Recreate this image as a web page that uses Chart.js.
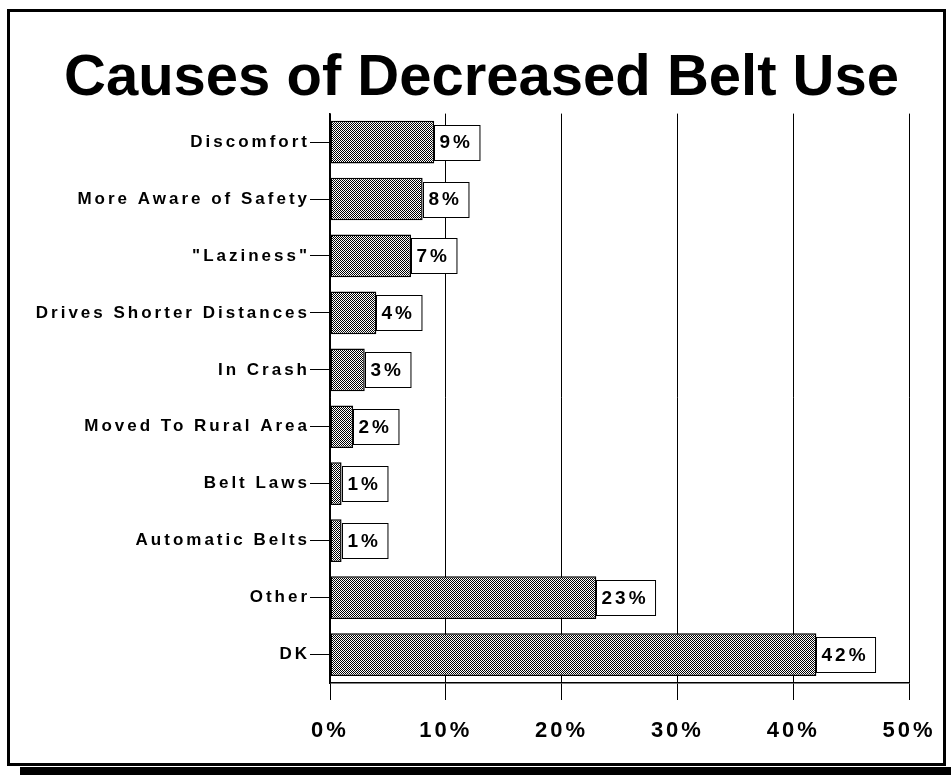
<!DOCTYPE html>
<html>
<head>
<meta charset="utf-8">
<title>Causes of Decreased Belt Use</title>
<script src="https://cdn.jsdelivr.net/npm/chart.js@4.4.1/dist/chart.umd.min.js"></script>
<style>
  html, body { margin: 0; padding: 0; background: #fff; }
  canvas { display: block; }
</style>
</head>
<body>
<canvas id="grafico" width="951" height="775"></canvas>
<script>
// datos del grafico
const causas = ["Discomfort", "More Aware of Safety", "\"Laziness\"", "Drives Shorter Distances",
                "In Crash", "Moved To Rural Area", "Belt Laws", "Automatic Belts", "Other", "DK"];
const porcientos = [9, 8, 7, 4, 3, 2, 1, 1, 23, 42];
const ticksX = [0, 10, 20, 30, 40, 50];
const titulo = "Causes of Decreased Belt Use";

Chart.defaults.font.family = "'Liberation Sans', Arial, sans-serif";
Chart.defaults.color = "#000";

// trama gris punteada para las barras
function trama() {
    const c = document.createElement("canvas");
    c.width = 2; c.height = 2;
    const g = c.getContext("2d");
    g.fillStyle = "#fff";
    g.fillRect(0, 0, 2, 2);
    g.fillStyle = "#000";
    g.fillRect(0, 0, 1, 1);
    g.fillRect(1, 1, 1, 1);
    return g.createPattern(c, "repeat");
}

const ESPACIO = "3px";

// marco con sombra + espaciado de letras
const marco = {
    id: "marco",
    afterInit(chart) {
        const t = chart.titleBlock;
        if (t) {
            const orig = t.draw.bind(t);
            t.draw = function () {
                const c = chart.ctx;
                c.save();
                c.letterSpacing = "0px";
                c.translate(27, 0); // centrar sobre el marco completo
                orig();
                c.restore();
                c.letterSpacing = ESPACIO;
            };
        }
    },
    beforeUpdate(chart) { chart.ctx.letterSpacing = ESPACIO; },
    beforeDraw(chart) {
        const ctx = chart.ctx;
        ctx.letterSpacing = ESPACIO;
        ctx.save();
        ctx.fillStyle = "#fff";
        ctx.fillRect(0, 0, chart.width, chart.height);
        ctx.strokeStyle = "#000";
        ctx.lineWidth = 3;
        ctx.strokeRect(8.5, 10.5, 936, 754);
        ctx.fillStyle = "#000";
        ctx.fillRect(20, 767, chart.width - 20, 8);
        ctx.restore();
    }
};

// etiquetas con caja blanca al final de cada barra
const etiquetas = {
    id: "etiquetas",
    afterDatasetsDraw(chart) {
        const ctx = chart.ctx;
        const meta = chart.getDatasetMeta(0);
        ctx.save();
        ctx.letterSpacing = ESPACIO;
        ctx.font = "bold 19px 'Liberation Sans', Arial, sans-serif";
        ctx.textBaseline = "middle";
        ctx.textAlign = "left";
        meta.data.forEach((bar, i) => {
            const txt = porcientos[i] + "%";
            const w = ctx.measureText(txt).width + 12;
            const h = 35;
            const x0 = Math.round(bar.x) + 0.5;
            const y0 = Math.round(bar.y - h / 2) + 0.5;
            ctx.fillStyle = "#fff";
            ctx.fillRect(x0, y0, w, h);
            ctx.strokeStyle = "#000";
            ctx.lineWidth = 1;
            ctx.strokeRect(x0, y0, w, h);
            ctx.fillStyle = "#000";
            ctx.fillText(txt, x0 + 5, bar.y + 1);
        });
        ctx.restore();
    }
};

const ctx = document.getElementById("grafico").getContext("2d");

new Chart(ctx, {
    type: "bar",
    data: {
        labels: causas,
        datasets: [{
            data: porcientos,
            backgroundColor: trama(),
            borderColor: "#000",
            borderWidth: 1.5,
            borderSkipped: false,
            barPercentage: 0.75,
            categoryPercentage: 1
        }]
    },
    options: {
        indexAxis: "y",
        responsive: false,
        animation: false,
        layout: { padding: { left: 0, right: 42, top: 0, bottom: 0 } },
        plugins: {
            legend: { display: false },
            tooltip: { enabled: false },
            title: {
                display: true,
                text: titulo,
                color: "#000",
                font: { size: 58, weight: "bold" },
                padding: { top: 44, bottom: 0 }
            }
        },
        scales: {
            x: {
                min: 0,
                max: 50,
                afterFit(scale) {
                    scale.height = 92;
                    scale.paddingLeft = 0;
                    scale.paddingRight = 0;
                },
                afterBuildTicks(scale) { scale.ticks = ticksX.map(v => ({ value: v })); },
                grid: {
                    color: "#000",
                    lineWidth: 1,
                    tickLength: 17,
                    tickColor: "#000"
                },
                border: { display: true, color: "#000", width: 1.5 },
                ticks: {
                    padding: 18,
                    font: { size: 22, weight: "bold" },
                    color: "#000",
                    callback: v => v + "%"
                }
            },
            y: {
                afterFit(scale) { scale.width = 330; },
                grid: {
                    drawOnChartArea: false,
                    offset: false,
                    tickLength: 20,
                    tickColor: "#000",
                    color: "#000"
                },
                border: { display: true, color: "#000", width: 1.5 },
                ticks: {
                    padding: 0,
                    font: { size: 17, weight: "bold" },
                    color: "#000"
                }
            }
        }
    },
    plugins: [marco, etiquetas]
});
</script>
</body>
</html>
